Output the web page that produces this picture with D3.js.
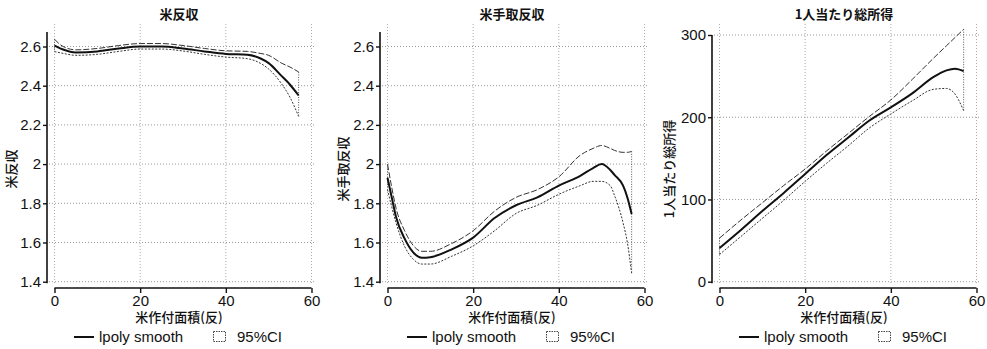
<!DOCTYPE html>
<html>
<head>
<meta charset="utf-8">
<script src="https://cdn.jsdelivr.net/npm/d3@7"></script>
<style>
  body { margin: 0; background: #fff; }
  svg { display: block; }
  .tick-label { font-family: "Liberation Sans", Arial, sans-serif; font-size: 15px; fill: #111; }
  .jp { font-family: "Noto Sans CJK JP", sans-serif; fill: #111; }
</style>
</head>
<body>
<div id="chart"></div>
<script>
// ---- data ----
const xTicks = [0, 20, 40, 60];

// panel 1: 米反収
const rice1X     = [0, 2, 5, 10, 15, 20, 25, 30, 35, 40, 45, 48, 50, 53, 55, 57];
const rice1Fit   = [2.605, 2.585, 2.570, 2.575, 2.590, 2.600, 2.600, 2.590, 2.575, 2.562, 2.558, 2.540, 2.515, 2.450, 2.405, 2.350];
const rice1Upper = [2.637, 2.600, 2.583, 2.590, 2.605, 2.615, 2.615, 2.605, 2.590, 2.578, 2.575, 2.565, 2.555, 2.515, 2.495, 2.470];
const rice1Lower = [2.574, 2.565, 2.555, 2.560, 2.575, 2.587, 2.587, 2.577, 2.560, 2.546, 2.538, 2.515, 2.485, 2.410, 2.340, 2.243];
const rice1Ticks = [1.4, 1.6, 1.8, 2, 2.2, 2.4, 2.6];

// panel 2: 米手取反収
const rice2X     = [0, 1, 2, 4, 6, 8, 10, 15, 20, 25, 30, 35, 40, 45, 48, 50, 52, 53, 55, 56, 57];
const rice2Fit   = [1.93, 1.83, 1.73, 1.62, 1.55, 1.522, 1.525, 1.565, 1.625, 1.725, 1.79, 1.83, 1.89, 1.94, 1.98, 2.0, 1.97, 1.945, 1.89, 1.83, 1.745];
const rice2Upper = [2.0, 1.88, 1.775, 1.66, 1.585, 1.555, 1.555, 1.595, 1.66, 1.76, 1.83, 1.87, 1.935, 2.045, 2.08, 2.095, 2.08, 2.07, 2.06, 2.06, 2.065];
const rice2Lower = [1.87, 1.78, 1.70, 1.58, 1.515, 1.49, 1.49, 1.53, 1.583, 1.66, 1.748, 1.79, 1.846, 1.89, 1.912, 1.912, 1.89, 1.84, 1.70, 1.60, 1.443];
const rice2Ticks = [1.4, 1.6, 1.8, 2, 2.2, 2.4, 2.6];

// panel 3: 1人当たり総所得
const incX     = [0, 5, 10, 15, 20, 25, 30, 35, 40, 45, 50, 53, 55, 57];
const incFit   = [41, 63, 86, 108, 131, 154, 175, 196, 212, 229, 249, 257, 259, 256];
const incUpper = [53, 75, 96, 117, 137, 159, 180, 201, 221, 246, 272, 287, 297, 307];
const incLower = [33, 55, 77, 99, 122, 144, 165, 187, 204, 220, 234, 235, 228, 208];
const incTicks = [0, 100, 200, 300];

const panels = [
  { title: "米反収", ylabel: "米反収", xs: rice1X, fit: rice1Fit, up: rice1Upper, lo: rice1Lower,
    yDomain: [1.4, 2.6], yTicks: rice1Ticks, axisX: 47, axisTop: 32, yTop: 46.5, labelOff: 31 },
  { title: "米手取反収", ylabel: "米手取反収", xs: rice2X, fit: rice2Fit, up: rice2Upper, lo: rice2Lower,
    yDomain: [1.4, 2.6], yTicks: rice2Ticks, axisX: 380, axisTop: 32, yTop: 46.5, labelOff: 32 },
  { title: "1人当たり総所得", ylabel: "1人当たり総所得", xs: incX, fit: incFit, up: incUpper, lo: incLower,
    yDomain: [0, 300], yTicks: incTicks, axisX: 712, axisTop: 35, yTop: 35, labelOff: 38 }
];

const W = 987, H = 349;
const yBottom = 281.7;
const xAxisY = 288;
const plotW = 257;

const svg = d3.select("#chart").append("svg").attr("width", W).attr("height", H);

panels.forEach(p => {
  const g = svg.append("g");
  const x0 = p.axisX + 7.5;
  const x = d3.scaleLinear().domain([0, 60]).range([x0, x0 + plotW]);
  const y = d3.scaleLinear().domain(p.yDomain).range([yBottom, p.yTop]);

  // grid
  g.selectAll(".hgrid").data(p.yTicks).enter().append("line")
    .attr("x1", p.axisX + 2).attr("x2", x(60) + 3)
    .attr("y1", d => y(d)).attr("y2", d => y(d))
    .attr("stroke", "#999").attr("stroke-width", 1).attr("stroke-dasharray", "1,2");
  g.selectAll(".vgrid").data(xTicks).enter().append("line")
    .attr("x1", d => x(d)).attr("x2", d => x(d))
    .attr("y1", 24).attr("y2", yBottom + 2)
    .attr("stroke", "#aaa").attr("stroke-width", 1).attr("stroke-dasharray", "1,2");

  // y axis
  const yAxis = d3.axisLeft(y).tickValues(p.yTicks).tickFormat(d => String(d)).tickSize(4).tickPadding(2);
  const ya = g.append("g").attr("transform", `translate(${p.axisX},0)`).call(yAxis);
  ya.select(".domain").attr("d", `M0,${p.axisTop}V${yBottom + 1.5}`).attr("stroke", "#111").attr("stroke-width", 1.6);
  ya.selectAll(".tick line").attr("stroke", "#111").attr("stroke-width", 1.4);
  ya.selectAll(".tick text").attr("class", "tick-label").attr("fill", "#111");

  // x axis
  const xAxis = d3.axisBottom(x).tickValues(xTicks).tickSize(5).tickPadding(2);
  const xa = g.append("g").attr("transform", `translate(0,${xAxisY})`).call(xAxis);
  xa.select(".domain").attr("d", `M${x(0)},0H${x(60)}`).attr("stroke", "#111").attr("stroke-width", 1.6);
  xa.selectAll(".tick line").attr("stroke", "#111").attr("stroke-width", 1.4);
  xa.selectAll(".tick text").attr("class", "tick-label").attr("fill", "#111");

  // CI outline
  const pts = arr => p.xs.map((v, i) => [v, arr[i]]);
  const line = d3.line().x(d => x(d[0])).y(d => y(d[1])).curve(d3.curveMonotoneX);
  g.append("path").attr("d", line(pts(p.up))).attr("fill", "none")
    .attr("stroke", "#333").attr("stroke-width", 1).attr("stroke-dasharray", "6,2");
  g.append("path").attr("d", line(pts(p.lo))).attr("fill", "none")
    .attr("stroke", "#333").attr("stroke-width", 1).attr("stroke-dasharray", "2,1.5");
  const last = p.xs.length - 1;
  [0, last].forEach(i => {
    g.append("line")
      .attr("x1", x(p.xs[i])).attr("x2", x(p.xs[i]))
      .attr("y1", y(p.up[i])).attr("y2", y(p.lo[i]))
      .attr("stroke", "#555").attr("stroke-width", 1).attr("stroke-dasharray", "1,1.5");
  });
  // fit
  g.append("path").attr("d", line(pts(p.fit))).attr("fill", "none")
    .attr("stroke", "#111").attr("stroke-width", 2);

  const cx = x(30) - 4;
  // title
  g.append("text").attr("class", "jp").attr("x", cx).attr("y", 19)
    .attr("text-anchor", "middle").attr("font-size", 13).attr("font-weight", "bold").text(p.title);
  // y label
  g.append("text").attr("class", "jp").attr("font-size", 13).attr("font-weight", 500)
    .attr("text-anchor", "middle")
    .attr("transform", `translate(${p.axisX - p.labelOff},169) rotate(-90)`).text(p.ylabel);
  // x label
  g.append("text").attr("class", "jp").attr("x", cx).attr("y", 322)
    .attr("text-anchor", "middle").attr("font-size", 13).attr("font-weight", 500).text("米作付面積(反)");

  // legend
  const lx = p.axisX + 27;
  g.append("line").attr("x1", lx).attr("x2", lx + 20).attr("y1", 337).attr("y2", 337)
    .attr("stroke", "#111").attr("stroke-width", 2);
  g.append("text").attr("class", "tick-label").attr("x", lx + 25).attr("y", 342).text("lpoly smooth");
  g.append("rect").attr("x", lx + 139.5).attr("y", 331.5).attr("width", 12).attr("height", 10)
    .attr("fill", "none").attr("stroke", "#444").attr("stroke-width", 1).attr("stroke-dasharray", "1.5,1");
  g.append("text").attr("class", "tick-label").attr("x", lx + 163).attr("y", 342).text("95%CI");
});
</script>
</body>
</html>
